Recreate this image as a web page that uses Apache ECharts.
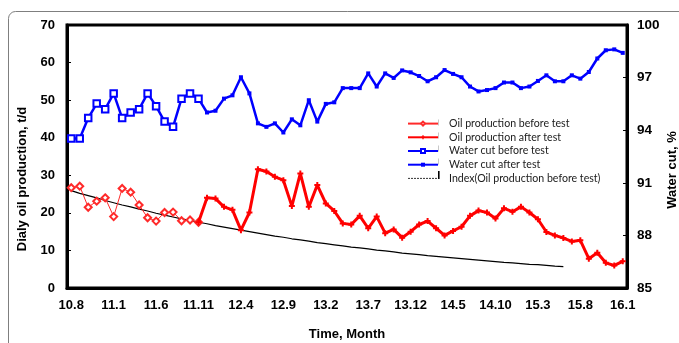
<!DOCTYPE html>
<html><head><meta charset="utf-8">
<script src="https://cdn.jsdelivr.net/npm/echarts@6/dist/echarts.min.js"></script>
<style>html,body{margin:0;padding:0;background:#fff}#c{width:679px;height:343px}</style>
</head><body><div id="c"></div><script>
const months = ['10.8','10.9','10.10','10.11','10.12',
 '11.1','11.2','11.3','11.4','11.5','11.6','11.7','11.8','11.9','11.10','11.11','11.12',
 '12.1','12.2','12.3','12.4','12.5','12.6','12.7','12.8','12.9','12.10','12.11','12.12',
 '13.1','13.2','13.3','13.4','13.5','13.6','13.7','13.8','13.9','13.10','13.11','13.12',
 '14.1','14.2','14.3','14.4','14.5','14.6','14.7','14.8','14.9','14.10','14.11','14.12',
 '15.1','15.2','15.3','15.4','15.5','15.6','15.7','15.8','15.9','15.10','15.11','15.12',
 '16.1'];
const leftTicks = [0,10,20,30,40,50,60,70];
const rightTicks = [85,88,91,94,97,100];
// months 10.8 .. 11.11 (index 0..15)
const oilBefore = [26.7,27.1,21.5,23.1,24.0,19.0,26.5,25.5,22.1,18.7,17.8,20.1,20.2,17.9,18.1,17.5];
// months 11.11 .. 16.1 (index 15..65)
const oilAfter = [17.5,24.0,23.8,21.6,20.8,15.4,20.1,31.6,31.0,29.6,28.7,21.8,30.5,21.6,27.4,22.5,20.5,17.2,16.9,19.2,15.9,19.0,14.6,15.6,13.4,15.0,16.9,17.8,15.9,14.0,15.2,16.3,19.2,20.6,20.1,18.5,21.2,20.3,21.6,20.1,18.3,14.9,14.0,13.3,12.4,12.7,7.8,9.4,6.7,6.0,7.1];
const waterBefore = [93.53,93.53,94.69,95.52,95.20,96.10,94.69,95.01,95.20,96.10,95.37,94.49,94.19,95.80,96.10,95.80];
const waterAfter = [95.80,95.01,95.11,95.80,95.99,97.02,96.10,94.39,94.19,94.39,93.87,94.62,94.28,95.71,94.49,95.50,95.59,96.40,96.40,96.40,97.24,96.49,97.24,96.98,97.41,97.30,97.09,96.79,97.02,97.43,97.21,97.02,96.49,96.21,96.29,96.40,96.72,96.72,96.40,96.49,96.81,97.13,96.79,96.79,97.13,96.94,97.32,98.09,98.56,98.61,98.41];
// index (trend) line, months 10.8 .. 15.6 (index 0..58)
const indexLine = [25.9,25.2,24.6,24.0,23.3,22.7,22.1,21.6,21.0,20.5,19.9,19.4,18.9,18.4,18.0,17.5,17.1,16.6,16.2,15.8,15.4,15.0,14.6,14.2,13.8,13.5,13.1,12.8,12.5,12.1,11.8,11.5,11.2,10.9,10.7,10.4,10.1,9.9,9.6,9.3,9.1,8.9,8.6,8.4,8.2,8.0,7.8,7.6,7.4,7.2,7.0,6.8,6.7,6.5,6.3,6.2,6.0,5.8,5.7];

const N = months.length;
function pad(arr, start){ const out = new Array(N).fill(null); arr.forEach((v,i)=>{ out[start+i]=v; }); return out; }

const lblFont = {fontFamily:'"Liberation Sans", Arial, sans-serif', fontWeight:'bold', fontSize:13, color:'#000'};
const plus = 'path://M2,0h2v2h2v2h-2v2h-2v-2h-2v-2h2z';

const chart = echarts.init(document.getElementById('c'), null, {renderer:'canvas'});
chart.setOption({
  animation:false,
  backgroundColor:'#fff',
  grid:{left:67,right:52,top:25,bottom:55,show:true,borderColor:'#000',borderWidth:3,backgroundColor:'transparent',
        containLabel:false, outerBoundsMode:'none'},
  legend:{
    orient:'vertical', left:402, top:112, itemWidth:30, itemHeight:5, itemGap:0.5,
    textStyle:{fontFamily:'Lato, "Liberation Sans", sans-serif', fontSize:10.6, color:'#1a1a1a', lineHeight:13.2, padding:[0,0,0,6]},
    data:[
      {name:'Oil production before test'},
      {name:'Oil production after test'},
      {name:'Water cut before test'},
      {name:'Water cut after test'},
      {name:'Index(Oil production before test)', lineStyle:{type:[2,1],width:1,color:'#333'}, itemStyle:{color:'rgba(0,0,0,0)',borderWidth:0,opacity:0}}
    ]
  },
  xAxis:{
    type:'category', data:months, boundaryGap:true,
    name:'Time, Month', nameLocation:'middle', nameGap:40,
    nameTextStyle:Object.assign({}, lblFont),
    axisLine:{lineStyle:{color:'#000',width:3}},
    axisTick:{inside:true,length:4,interval:0,lineStyle:{color:'#000',width:1}},
    axisLabel:Object.assign({interval:4,margin:11}, lblFont),
    splitLine:{show:false}
  },
  yAxis:[
    {type:'value',min:0,max:70,interval:10,position:'left',
     axisLine:{show:true,lineStyle:{color:'#000',width:3}},
     axisTick:{show:true,inside:true,length:4,lineStyle:{color:'#000',width:1}},
     axisLabel:Object.assign({margin:12,customValues:leftTicks}, lblFont),
     splitLine:{show:false}},
    {type:'value',min:85,max:100,position:'right',
     axisLine:{show:true,lineStyle:{color:'#000',width:3}},
     axisTick:{show:true,inside:true,length:4,customValues:rightTicks,lineStyle:{color:'#000',width:1}},
     axisLabel:Object.assign({margin:10,customValues:rightTicks}, lblFont, {fontSize:13.5}),
     splitLine:{show:false}}
  ],
  series:[
    {name:'Oil production before test',type:'line',yAxisIndex:0,data:pad(oilBefore,0),
     symbol:'emptyDiamond',symbolSize:7,showAllSymbol:true,
     lineStyle:{color:'#ff2a2a',width:1},itemStyle:{color:'#ff2a2a',borderWidth:1},z:4},
    {name:'Oil production after test',type:'line',yAxisIndex:0,data:pad(oilAfter,15),
     symbol:plus,symbolSize:6,showAllSymbol:true,
     lineStyle:{color:'#ff0000',width:3},itemStyle:{color:'#ff0000'},z:5},
    {name:'Water cut before test',type:'line',yAxisIndex:1,data:pad(waterBefore,0),
     symbol:'emptyRect',symbolSize:6.5,showAllSymbol:true,
     lineStyle:{color:'#0000ff',width:2.5},itemStyle:{color:'#0000ff',borderWidth:1},z:4},
    {name:'Water cut after test',type:'line',yAxisIndex:1,data:pad(waterAfter,15),
     symbol:'rect',symbolSize:4,showAllSymbol:true,
     lineStyle:{color:'#0000ff',width:2.5},itemStyle:{color:'#0000ff'},z:3},
    {name:'Index(Oil production before test)',type:'line',yAxisIndex:0,data:pad(indexLine,0),
     symbol:'none',lineStyle:{color:'#000',width:1.2},itemStyle:{color:'#000'},z:3}
  ],
  graphic:[
    {type:'rect',silent:true,z:-10,shape:{x:8.5,y:11.5,width:720,height:420,r:7},style:{fill:null,stroke:'#7f7f7f',lineWidth:1}},
    {type:'text',x:22,y:179,rotation:Math.PI/2,style:{text:'Dialy oil production, t/d',align:'center',verticalAlign:'middle',fill:'#000',font:'bold 13px "Liberation Sans", Arial, sans-serif'}},
    {type:'text',x:672,y:170,rotation:Math.PI/2,style:{text:'Water cut, %',align:'center',verticalAlign:'middle',fill:'#000',font:'bold 13px "Liberation Sans", Arial, sans-serif'}},
    {type:'rect',silent:true,shape:{x:438,y:119.5,width:1,height:6},style:{fill:'#c8c8c8'}},
    {type:'rect',silent:true,shape:{x:438,y:132.5,width:1,height:6},style:{fill:'#c8c8c8'}},
    {type:'rect',silent:true,shape:{x:438,y:145.5,width:1,height:6},style:{fill:'#c8c8c8'}},
    {type:'rect',silent:true,shape:{x:438,y:158.5,width:1,height:6},style:{fill:'#c8c8c8'}},
    {type:'rect',silent:true,shape:{x:438,y:171,width:1.6,height:8},style:{fill:'#000'}}
  ]
});
</script></body></html>
